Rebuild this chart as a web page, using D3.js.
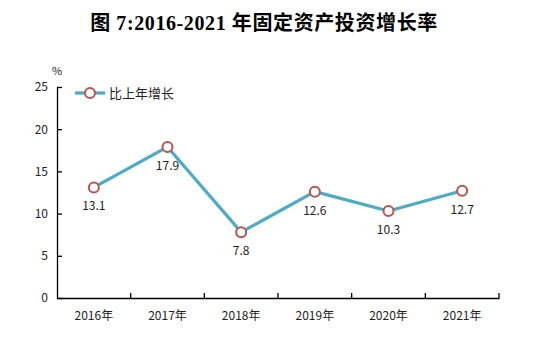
<!DOCTYPE html>
<html><head><meta charset="utf-8">
<script src="https://cdn.jsdelivr.net/npm/d3@7"></script>
<style>body{margin:0;background:#fff}svg{display:block}</style>
</head><body>
<script>
const categories = ["2016年","2017年","2018年","2019年","2020年","2021年"];
const growth = [13.1, 17.9, 7.8, 12.6, 10.3, 12.7];
const yTicks = [0,5,10,15,20,25];
const seriesName = "比上年增长";
const titleText = "图 7:2016-2021 年固定资产投资增长率";

const W=541,H=357;
const svg=d3.select("body").append("svg").attr("width",W).attr("height",H);
const m={l:57,r:42,t:87,b:59};
const x=d3.scaleBand().domain(categories).range([m.l,W-m.r]);
const y=d3.scaleLinear().domain([0,25]).range([H-m.b,m.t]);
const font="'Noto Sans CJK SC','DejaVu Sans',sans-serif";

svg.append("text").attr("x",264).attr("y",30).attr("text-anchor","middle")
  .attr("font-family","'Liberation Serif','Noto Sans CJK SC',serif").attr("font-weight","bold")
  .attr("font-size",20).attr("letter-spacing",0.6).attr("fill","#000").text(titleText);

const xa=svg.append("g").attr("transform",`translate(0,${H-m.b})`)
  .call(d3.axisBottom(x).tickSize(0).tickSizeOuter(0));
xa.select(".domain").attr("stroke","#000").attr("stroke-width",1.3);
xa.selectAll("text").attr("font-family",font).attr("font-size",12).attr("fill","#222").attr("dy","1.6em");
const bounds=categories.map(c=>x(c)).concat([x(categories[categories.length-1])+x.bandwidth()]);
svg.append("g").selectAll("line").data(bounds.slice(1)).join("line")
  .attr("x1",d=>d).attr("x2",d=>d).attr("y1",H-m.b).attr("y2",H-m.b-5)
  .attr("stroke","#000").attr("stroke-width",1.3);

const ya=svg.append("g").attr("transform",`translate(${m.l},0)`)
  .call(d3.axisLeft(y).tickValues(yTicks).tickSize(-5).tickSizeOuter(0).tickPadding(9));
ya.select(".domain").attr("stroke","#000").attr("stroke-width",1.3);
ya.selectAll(".tick line").attr("stroke","#000").attr("stroke-width",1.3);
ya.selectAll("text").attr("font-family",font).attr("font-size",12).attr("fill","#222");

svg.append("text").attr("x",57).attr("y",75).attr("text-anchor","middle")
  .attr("font-family",font).attr("font-size",11).attr("fill","#222").text("%");

const cx=d=>x(d)+x.bandwidth()/2;
const line=d3.line().x((d,i)=>cx(categories[i])).y(d=>y(d));
svg.append("path").datum(growth).attr("d",line).attr("fill","none")
  .attr("stroke","#4BACC6").attr("stroke-width",3.2).attr("stroke-linejoin","round");
svg.append("g").selectAll("circle").data(growth).join("circle")
  .attr("cx",(d,i)=>cx(categories[i])).attr("cy",d=>y(d)).attr("r",5)
  .attr("fill","#fff").attr("stroke","#C0504D").attr("stroke-width",2);
svg.append("g").selectAll("text").data(growth).join("text")
  .attr("x",(d,i)=>cx(categories[i])).attr("y",d=>y(d)+23)
  .attr("text-anchor","middle").attr("font-family",font).attr("font-size",12).attr("fill","#222")
  .text(d=>d.toFixed(1));

const lg=svg.append("g").attr("transform","translate(75,93)");
lg.append("line").attr("x1",0).attr("x2",30).attr("stroke","#4BACC6").attr("stroke-width",3.2);
lg.append("circle").attr("cx",15).attr("r",5).attr("fill","#fff").attr("stroke","#C0504D").attr("stroke-width",2);
lg.append("text").attr("x",34).attr("y",4.5).attr("font-family",font).attr("font-size",13).attr("fill","#222").text(seriesName);
</script>
</body></html>
